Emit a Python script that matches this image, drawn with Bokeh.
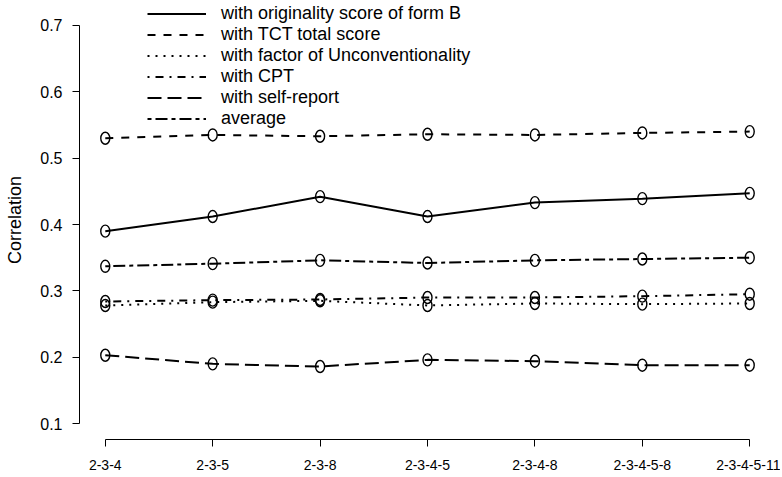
from bokeh.plotting import figure
from bokeh.models import Range1d, FixedTicker, Legend, LegendItem
from bokeh.embed import file_html
from bokeh.resources import INLINE

categories = ["2-3-4", "2-3-5", "2-3-8", "2-3-4-5", "2-3-4-8", "2-3-4-5-8", "2-3-4-5-11"]
form_b = [0.390, 0.412, 0.442, 0.412, 0.433, 0.439, 0.447]
tct_total = [0.530, 0.535, 0.533, 0.536, 0.535, 0.538, 0.540]
unconventionality = [0.278, 0.283, 0.285, 0.278, 0.281, 0.280, 0.281]
cpt = [0.284, 0.286, 0.287, 0.290, 0.290, 0.292, 0.295]
self_report = [0.203, 0.190, 0.186, 0.196, 0.194, 0.188, 0.188]
average = [0.337, 0.341, 0.346, 0.342, 0.346, 0.348, 0.350]
y_ticks = [0.1, 0.2, 0.3, 0.4, 0.5, 0.6, 0.7]

series = [
    ("with originality score of form B", form_b, "solid"),
    ("with TCT total score", tct_total, "8 8"),
    ("with factor of Unconventionality", unconventionality, "2 6"),
    ("with CPT", cpt, "2 6 8 6"),
    ("with self-report", self_report, "14 6"),
    ("average", average, "4 4 12 4"),
]

x = list(range(len(categories)))
FONT = "Liberation Sans"

p = figure(width=780, height=475, output_backend="svg", toolbar_location=None,
           x_range=Range1d(-0.24, 6.24), y_range=Range1d(0.076, 0.7376),
           min_border_left=79, min_border_right=5, min_border_top=0, min_border_bottom=36)
p.outline_line_color = None
p.grid.visible = False
p.background_fill_color = "white"

items = []
for name, vals, dash in series:
    r = p.line(x, vals, line_color="black", line_width=2, line_dash=dash)
    p.ellipse(x, vals, width=9, height=12, width_units="screen", height_units="screen",
              fill_color=None, line_color="black", line_width=1.4)
    items.append(LegendItem(label=name, renderers=[r]))

legend = Legend(items=items, location=(68, 310))
legend.background_fill_alpha = 0
legend.border_line_color = None
legend.padding = 0
legend.margin = 0
legend.spacing = 0
legend.glyph_width = 59
legend.glyph_height = 19
legend.label_height = 19
legend.label_standoff = 15
legend.label_text_font = FONT
legend.label_text_font_size = "18px"
legend.label_text_color = "black"
p.add_layout(legend)

p.xaxis.ticker = FixedTicker(ticks=x)
p.xaxis.major_label_overrides = {i: c for i, c in zip(x, categories)}
p.xaxis.bounds = (0, len(categories) - 1)
p.yaxis.ticker = FixedTicker(ticks=y_ticks)
p.yaxis.bounds = (y_ticks[0], y_ticks[-1])
p.yaxis.axis_label = "Correlation"

for ax in (p.xaxis[0], p.yaxis[0]):
    ax.axis_line_color = "black"
    ax.axis_line_width = 1
    ax.major_tick_line_color = "black"
    ax.major_tick_out = 7
    ax.major_tick_in = 0
    ax.minor_tick_line_color = None
    ax.major_label_text_font = FONT
    ax.major_label_text_color = "black"

p.xaxis.major_label_text_font_size = "14px"
p.xaxis.major_label_standoff = 13
p.yaxis.major_label_text_font_size = "16px"
p.yaxis.major_label_standoff = 10
p.yaxis.axis_label_text_font = FONT
p.yaxis.axis_label_text_font_size = "18px"
p.yaxis.axis_label_text_font_style = "normal"
p.yaxis.axis_label_text_color = "black"
p.yaxis.axis_label_standoff = 12

open("out.html", "w").write(file_html(p, INLINE))
